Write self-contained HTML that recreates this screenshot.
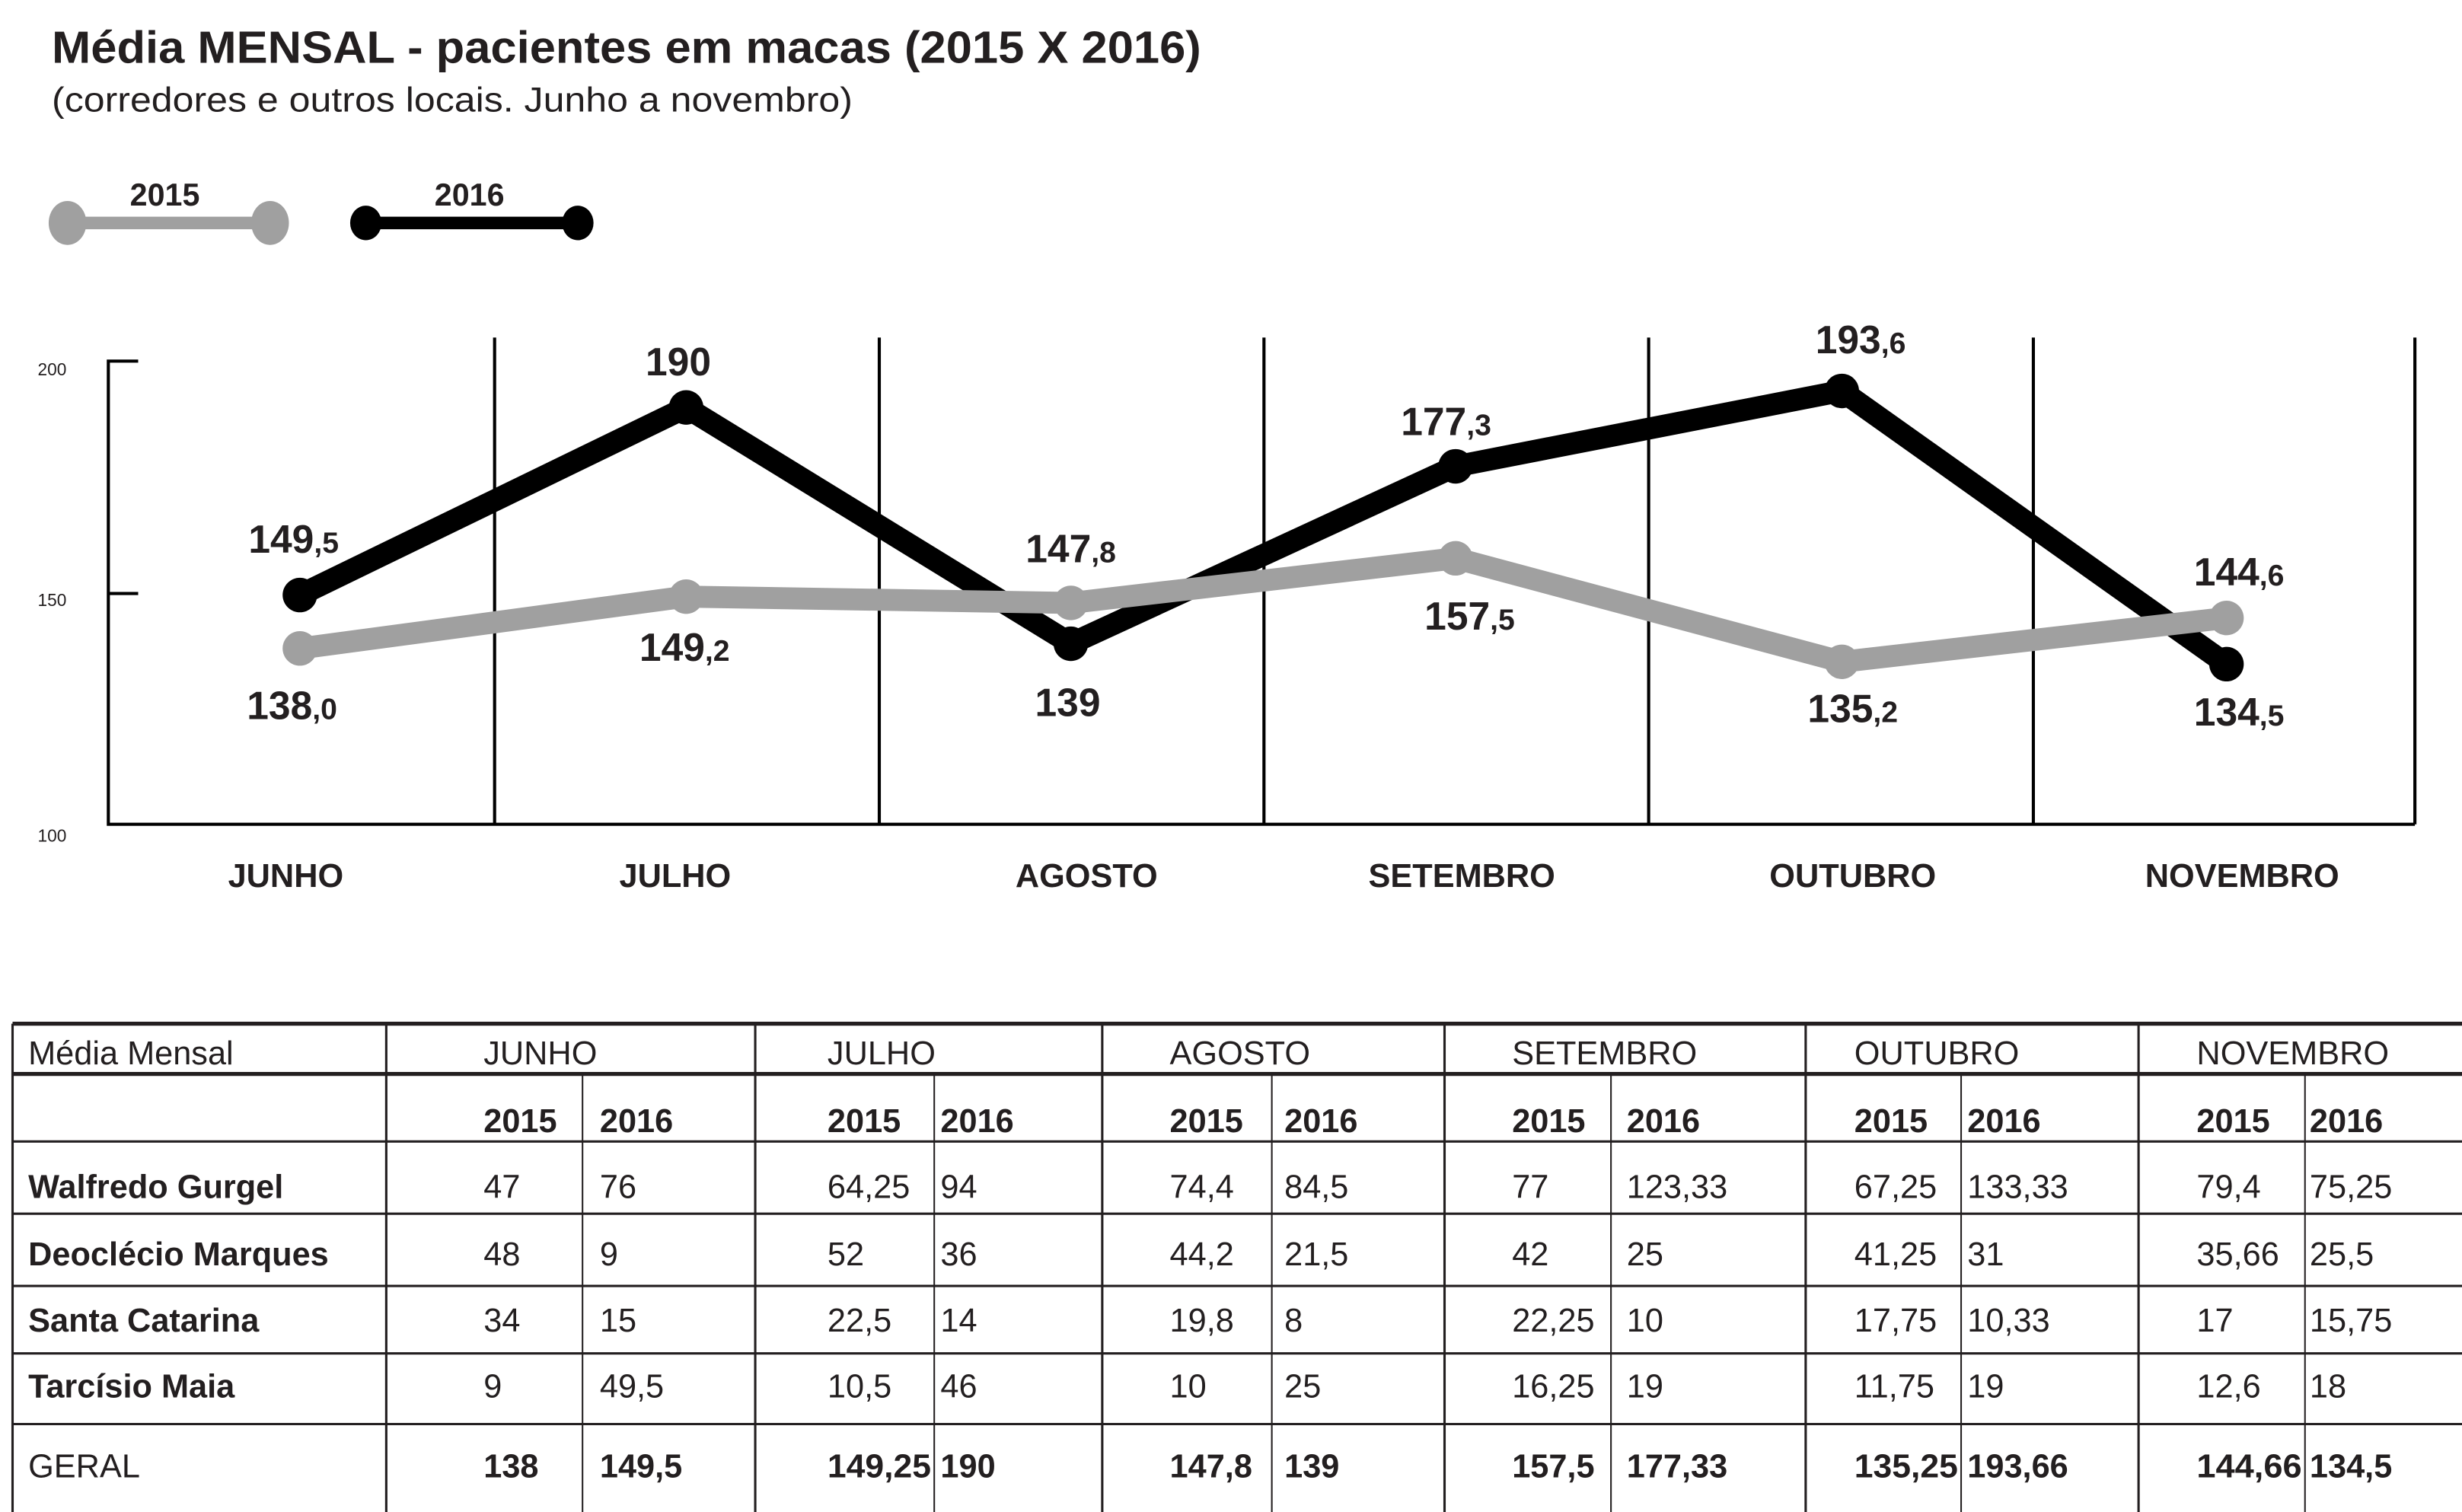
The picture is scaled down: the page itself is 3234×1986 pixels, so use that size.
<!DOCTYPE html>
<html><head><meta charset="utf-8"><style>html,body{margin:0;padding:0;background:#fff}svg{display:block}</style></head>
<body>
<svg width="3234" height="1986" viewBox="0 0 1568 963" preserveAspectRatio="none" xmlns="http://www.w3.org/2000/svg" font-family="Liberation Sans, sans-serif">
<rect width="1568" height="963" fill="#fff"/>
<text x="33" y="40" font-size="29" font-weight="bold" fill="#231f20" textLength="732" lengthAdjust="spacingAndGlyphs">Média MENSAL - pacientes em macas (2015 X 2016)</text>
<text x="33" y="71" font-size="22" fill="#231f20" textLength="510" lengthAdjust="spacingAndGlyphs">(corredores e outros locais. Junho a novembro)</text>
<!-- legend -->
<line x1="43" y1="142" x2="172" y2="142" stroke="#a0a0a0" stroke-width="8"/>
<ellipse cx="43" cy="142" rx="12" ry="14" fill="#a0a0a0"/><ellipse cx="172" cy="142" rx="12" ry="14" fill="#a0a0a0"/>
<text x="105" y="131" font-size="20" font-weight="bold" text-anchor="middle" fill="#231f20">2015</text>
<line x1="233" y1="142" x2="368" y2="142" stroke="#000" stroke-width="8"/>
<ellipse cx="233" cy="142" rx="10" ry="11" fill="#000"/><ellipse cx="368" cy="142" rx="10" ry="11" fill="#000"/>
<text x="299" y="131" font-size="20" font-weight="bold" text-anchor="middle" fill="#231f20">2016</text>
<!-- axes -->
<g stroke="#000" stroke-width="2" fill="none">
<polyline points="88,230 69,230 69,525 1538,525"/>
<line x1="69" y1="378" x2="88" y2="378"/>
<line x1="315" y1="215" x2="315" y2="525"/><line x1="560" y1="215" x2="560" y2="525"/>
<line x1="805" y1="215" x2="805" y2="525"/><line x1="1050" y1="215" x2="1050" y2="525"/>
<line x1="1295" y1="215" x2="1295" y2="525"/><line x1="1538" y1="215" x2="1538" y2="525"/>
</g>
<g font-size="11" fill="#231f20"><text x="24" y="239">200</text><text x="24" y="386">150</text><text x="24" y="536">100</text></g>
<!-- 2016 -->
<polyline points="191,379 437,259.5 682,410 927,297 1173,249 1418,423" fill="none" stroke="#000" stroke-width="14" stroke-linejoin="round"/>
<g fill="#000"><circle cx="191" cy="379" r="11"/><circle cx="437" cy="259.5" r="11"/><circle cx="682" cy="410" r="11"/><circle cx="927" cy="297" r="11"/><circle cx="1173" cy="249" r="11"/><circle cx="1418" cy="423" r="11"/></g>
<!-- 2015 -->
<polyline points="191,413 437,380 682,384 927,355.6 1173,421.5 1418,393.6" fill="none" stroke="#a0a0a0" stroke-width="14" stroke-linejoin="round"/>
<g fill="#a0a0a0"><circle cx="191" cy="413" r="11"/><circle cx="437" cy="380" r="11"/><circle cx="682" cy="384" r="11"/><circle cx="927" cy="355.6" r="11"/><circle cx="1173" cy="421.5" r="11"/><circle cx="1418" cy="393.6" r="11"/></g>
<g font-size="25" font-weight="bold" fill="#231f20" text-anchor="middle">
<text x="187" y="352">149<tspan font-size="19">,5</tspan></text>
<text x="432" y="239">190</text>
<text x="682" y="358">147<tspan font-size="19">,8</tspan></text>
<text x="921" y="277">177<tspan font-size="19">,3</tspan></text>
<text x="1185" y="225">193<tspan font-size="19">,6</tspan></text>
<text x="1426" y="373">144<tspan font-size="19">,6</tspan></text>
<text x="186" y="458">138<tspan font-size="19">,0</tspan></text>
<text x="436" y="421">149<tspan font-size="19">,2</tspan></text>
<text x="680" y="456">139</text>
<text x="936" y="401">157<tspan font-size="19">,5</tspan></text>
<text x="1180" y="460">135<tspan font-size="19">,2</tspan></text>
<text x="1426" y="462">134<tspan font-size="19">,5</tspan></text>
</g>
<g font-size="21" font-weight="bold" fill="#231f20" text-anchor="middle">
<text x="182" y="565">JUNHO</text><text x="430" y="565">JULHO</text><text x="692" y="565">AGOSTO</text>
<text x="931" y="565">SETEMBRO</text><text x="1180" y="565">OUTUBRO</text><text x="1428" y="565">NOVEMBRO</text>
</g>
<!-- table -->
<g stroke="#231f20" stroke-width="1.5">
<line x1="8" y1="652" x2="1568" y2="652" stroke-width="2.5"/>
<line x1="8" y1="684" x2="1568" y2="684" stroke-width="2.5"/>
<line x1="8" y1="727" x2="1568" y2="727"/><line x1="8" y1="773" x2="1568" y2="773"/>
<line x1="8" y1="819" x2="1568" y2="819"/><line x1="8" y1="862" x2="1568" y2="862"/>
<line x1="8" y1="907" x2="1568" y2="907"/>
<line x1="8" y1="652" x2="8" y2="963"/><line x1="246" y1="652" x2="246" y2="963"/>
<line x1="481" y1="652" x2="481" y2="963"/><line x1="702" y1="652" x2="702" y2="963"/>
<line x1="920" y1="652" x2="920" y2="963"/><line x1="1150" y1="652" x2="1150" y2="963"/>
<line x1="1362" y1="652" x2="1362" y2="963"/>
<g stroke-width="1"><line x1="371" y1="684" x2="371" y2="963"/><line x1="595" y1="684" x2="595" y2="963"/>
<line x1="810" y1="684" x2="810" y2="963"/><line x1="1026" y1="684" x2="1026" y2="963"/>
<line x1="1249" y1="684" x2="1249" y2="963"/><line x1="1468" y1="684" x2="1468" y2="963"/></g>
</g>
<g font-size="21" fill="#231f20">
<text x="18" y="678">Média Mensal</text>
<text x="308" y="678">JUNHO</text><text x="527" y="678">JULHO</text><text x="745" y="678">AGOSTO</text>
<text x="963" y="678">SETEMBRO</text><text x="1181" y="678">OUTUBRO</text><text x="1399" y="678">NOVEMBRO</text>
</g>
<g font-size="21" font-weight="bold" fill="#231f20">
<text x="308" y="721">2015</text><text x="382" y="721">2016</text>
<text x="527" y="721">2015</text><text x="599" y="721">2016</text>
<text x="745" y="721">2015</text><text x="818" y="721">2016</text>
<text x="963" y="721">2015</text><text x="1036" y="721">2016</text>
<text x="1181" y="721">2015</text><text x="1253" y="721">2016</text>
<text x="1399" y="721">2015</text><text x="1471" y="721">2016</text>
<text x="18" y="763">Walfredo Gurgel</text>
<text x="18" y="806">Deoclécio Marques</text>
<text x="18" y="848">Santa Catarina</text>
<text x="18" y="890">Tarcísio Maia</text>
</g>
<g font-size="21" fill="#231f20">
<text x="308" y="763">47</text><text x="382" y="763">76</text><text x="527" y="763">64,25</text><text x="599" y="763">94</text><text x="745" y="763">74,4</text><text x="818" y="763">84,5</text><text x="963" y="763">77</text><text x="1036" y="763">123,33</text><text x="1181" y="763">67,25</text><text x="1253" y="763">133,33</text><text x="1399" y="763">79,4</text><text x="1471" y="763">75,25</text>
<text x="308" y="806">48</text><text x="382" y="806">9</text><text x="527" y="806">52</text><text x="599" y="806">36</text><text x="745" y="806">44,2</text><text x="818" y="806">21,5</text><text x="963" y="806">42</text><text x="1036" y="806">25</text><text x="1181" y="806">41,25</text><text x="1253" y="806">31</text><text x="1399" y="806">35,66</text><text x="1471" y="806">25,5</text>
<text x="308" y="848">34</text><text x="382" y="848">15</text><text x="527" y="848">22,5</text><text x="599" y="848">14</text><text x="745" y="848">19,8</text><text x="818" y="848">8</text><text x="963" y="848">22,25</text><text x="1036" y="848">10</text><text x="1181" y="848">17,75</text><text x="1253" y="848">10,33</text><text x="1399" y="848">17</text><text x="1471" y="848">15,75</text>
<text x="308" y="890">9</text><text x="382" y="890">49,5</text><text x="527" y="890">10,5</text><text x="599" y="890">46</text><text x="745" y="890">10</text><text x="818" y="890">25</text><text x="963" y="890">16,25</text><text x="1036" y="890">19</text><text x="1181" y="890">11,75</text><text x="1253" y="890">19</text><text x="1399" y="890">12,6</text><text x="1471" y="890">18</text>
<text x="18" y="941">GERAL</text>
</g>
<g font-size="21" font-weight="bold" fill="#231f20">
<text x="308" y="941">138</text><text x="382" y="941">149,5</text><text x="527" y="941" textLength="66" lengthAdjust="spacingAndGlyphs">149,25</text><text x="599" y="941">190</text><text x="745" y="941">147,8</text><text x="818" y="941">139</text><text x="963" y="941">157,5</text><text x="1036" y="941">177,33</text><text x="1181" y="941" textLength="66" lengthAdjust="spacingAndGlyphs">135,25</text><text x="1253" y="941">193,66</text><text x="1399" y="941" textLength="67" lengthAdjust="spacingAndGlyphs">144,66</text><text x="1471" y="941">134,5</text>
</g>
</svg>
</body></html>
